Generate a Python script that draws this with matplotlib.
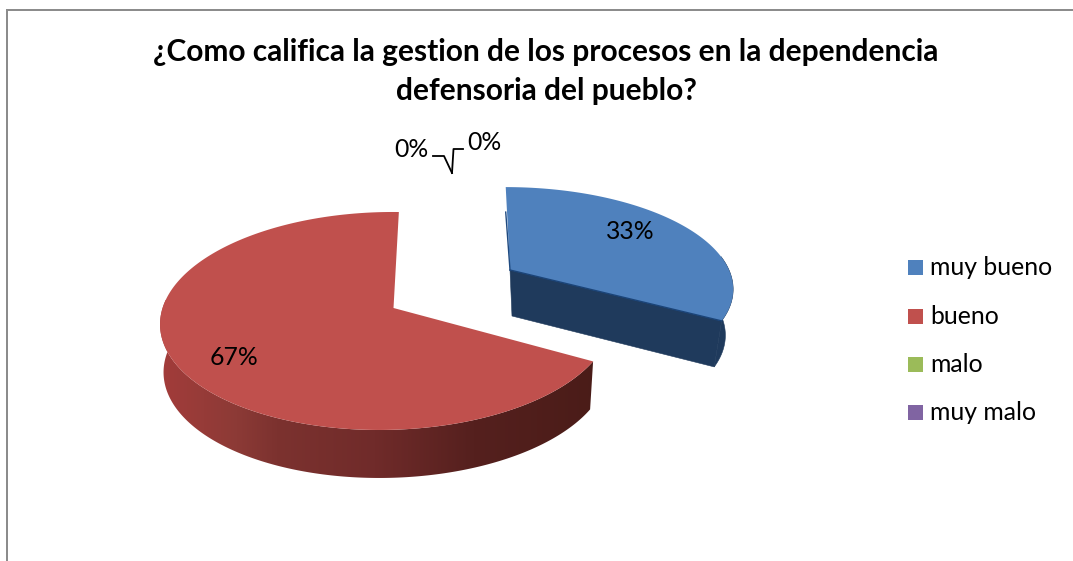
import numpy as np
import matplotlib
matplotlib.use("Agg")
import matplotlib.pyplot as plt
from matplotlib.patches import Polygon, Rectangle
from matplotlib.colors import to_rgb

W, H = 1073, 561
categories = ["muy bueno", "bueno", "malo", "muy malo"]
values = [33, 67, 0, 0]
labels = ["33%", "67%", "0%", "0%"]
colors = ["#4F81BD", "#C0504D", "#9BBB59", "#8064A2"]
title_lines = ["¿Como califica la gestion de los procesos en la dependencia",
               "defensoria del pueblo?"]
FONT = ["Lato", "DejaVu Sans"]
LABEL_SIZE = 17.8

fig = plt.figure(figsize=(W / 100, H / 100), dpi=100)
ax = fig.add_axes([0, 0, 1, 1])


def proj(theta, apex, rx, a, k, m, s, dz=0.0, zs=1.0):
    """theta: clockwise from the top, in radians; returns pixel positions."""
    X, Y = np.sin(theta), np.cos(theta)
    d = 1 + k * Y + m * X
    return apex[0] + zs * (rx * X + s * Y) / d, apex[1] - a * Y / d + dz


total = sum(values)
angles = np.cumsum([0] + values) / total * 2 * np.pi

# red slice
red = dict(apex=(393.5, 308), rx=224, a=107.4, k=0.119, m=0.03, s=6)
th = np.linspace(angles[1], angles[2], 360)
x0, y0 = proj(th, **red)
x1, y1 = proj(th, dz=48, zs=0.985, **red)
wall = Polygon(np.r_[np.c_[x0, y0], np.c_[x1, y1][::-1]], closed=True, fc="none", ec="none")
ax.add_patch(wall)
stops_x = np.array([150, 170, 237, 277, 375, 474, 600])
stops_c = np.array([to_rgb(c) for c in
                    ["#A8403E", "#A03C3A", "#8C3A36", "#7C322F", "#702B2A", "#55201E", "#4A1C18"]])
grid = np.arange(150, 601)
grad = np.stack([np.interp(grid, stops_x, stops_c[:, i]) for i in range(3)], axis=-1)[None, :, :]
im = ax.imshow(grad, extent=[150, 600, 490, 300], aspect="auto", zorder=2, interpolation="bilinear")
im.set_clip_path(wall)
ax.add_patch(Polygon(np.r_[[red["apex"]], np.c_[x0, y0]], closed=True, fc=colors[1], ec="none", zorder=3))

# blue slice
blue = dict(apex=(510, 270), rx=219, a=97, k=0.17, m=0.0, s=-5)
th = np.linspace(angles[0], angles[1], 120)
x0, y0 = proj(th, **blue)
x1, y1 = proj(th, dz=46, zs=0.965, **blue)
navy = "#1F3A5C"
low_apex = (blue["apex"][0] + 2, blue["apex"][1] + 46)
ax.add_patch(Polygon(np.r_[np.c_[x0, y0][x0 >= x0[-1] - 1], np.c_[x1, y1][x0 >= x0[-1] - 1][::-1]],
                     closed=True, fc=navy, ec=navy, lw=0.4, zorder=1))
ax.add_patch(Polygon([blue["apex"], (x0[-1], y0[-1]), (x1[-1], y1[-1]), low_apex],
                     closed=True, fc=navy, ec=navy, lw=0.4, zorder=2))
ax.add_patch(Polygon(np.r_[[blue["apex"]], np.c_[x0, y0]], closed=True, fc=colors[0], ec="none", zorder=3))
ax.plot([blue["apex"][0], x0[-1]], [blue["apex"][1], y0[-1]], color="#1B4478", lw=1.0, zorder=4)
ax.plot([blue["apex"][0], x0[0]], [blue["apex"][1], y0[0] + 25], color="#1F4A80", lw=1.0, zorder=4)

# slice labels
label_xy = [(630.5, 231), (234, 357), (411, 149), (484, 142)]
for lab, (lx, ly) in zip(labels, label_xy):
    ax.text(lx, ly, lab, ha="center", va="center", fontsize=LABEL_SIZE, family=FONT, color="black", zorder=5)

# leader lines of the empty slices
ax.plot([433, 444, 452], [156, 156, 173], color="black", lw=1.3, zorder=4)
ax.plot([463, 453.5, 452], [149, 149, 173], color="black", lw=1.3, zorder=4)

# title
for line, y in zip(title_lines, [52, 91]):
    ax.text(546, y, line, ha="center", va="center", fontsize=21.5, fontweight="bold", family=FONT, color="black")

# legend
leg_y = [267.5, 316.5, 364.5, 412.5]
for name, c, y in zip(categories, colors, leg_y):
    ax.add_patch(Rectangle((908, y - 7.5), 15, 15, fc=c, ec="none"))
    ax.text(930, y, name, ha="left", va="center", fontsize=LABEL_SIZE, family=FONT, color="black")

# outer frame
ax.plot([7, 7], [H, 10], color="#8C8C8C", lw=1.44, solid_capstyle="projecting")
ax.plot([7, W], [10, 10], color="#8C8C8C", lw=1.44, solid_capstyle="butt")

ax.set_xlim(0, W)
ax.set_ylim(H, 0)
ax.axis("off")
fig.savefig("out.png", dpi=100)
